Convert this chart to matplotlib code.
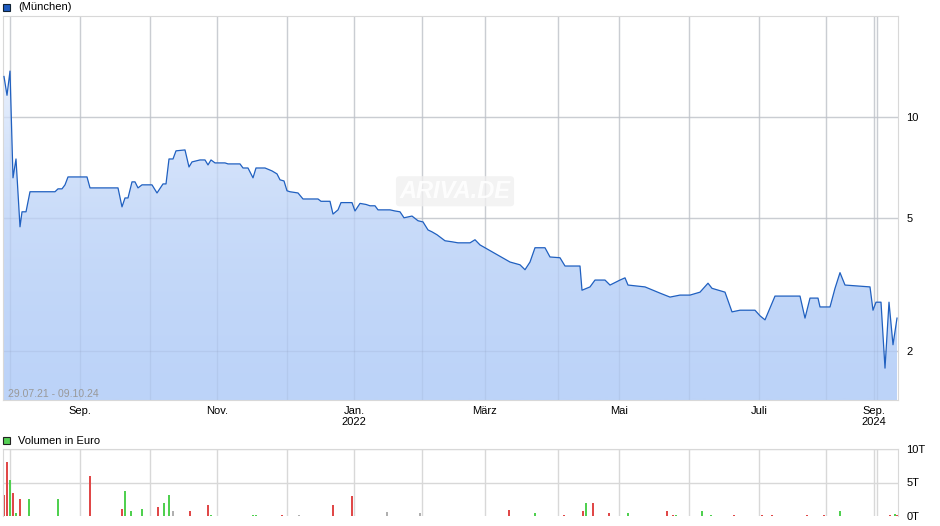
import numpy as np
import matplotlib
matplotlib.use("Agg")
import matplotlib.pyplot as plt
from matplotlib.patches import Rectangle
from matplotlib.colors import LinearSegmentedColormap

plt.rcParams['font.family'] = ['Liberation Sans', 'DejaVu Sans']

# time index (chart days) and prices
t = [4,7,10,13,16,20,22,26,30,55,58,62,65,68,87,90,118,122,125,128,132,135,138,142,152,157,163,166,169,173,176,185,189,192,200,205,208,211,215,225,228,240,243,248,253,256,265,272,277,280,284,287,290,298,303,318,321,330,333,338,341,352,355,360,366,370,375,378,390,395,400,404,412,418,423,428,432,437,445,452,458,470,475,480,510,520,525,530,535,545,550,560,565,570,580,582,590,595,605,610,620,625,628,645,660,670,680,690,700,708,712,725,732,740,755,760,765,775,800,805,810,818,820,830,835,840,845,870,873,876,881,885,889,893,897]
price = [13.2,11.6,13.7,6.58,7.49,4.70,5.21,5.21,5.98,5.98,6.10,6.10,6.27,6.62,6.62,6.14,6.14,5.39,5.73,5.73,6.40,6.40,6.14,6.27,6.27,5.93,6.31,6.31,7.49,7.49,7.92,7.97,7.09,7.34,7.44,7.44,7.19,7.44,7.29,7.29,7.24,7.24,7.04,7.04,6.58,7.04,7.04,6.90,6.76,6.49,6.44,6.02,5.98,5.93,5.69,5.69,5.60,5.60,5.13,5.28,5.55,5.55,5.24,5.52,5.48,5.43,5.43,5.28,5.28,5.24,5.21,5.00,5.06,4.90,4.86,4.60,4.54,4.45,4.27,4.24,4.21,4.21,4.30,4.15,3.69,3.62,3.50,3.69,4.07,4.07,3.82,3.80,3.59,3.59,3.59,3.04,3.11,3.26,3.26,3.15,3.26,3.31,3.15,3.11,2.98,2.90,2.94,2.94,3.00,3.19,3.08,3.00,2.62,2.65,2.65,2.55,2.48,2.92,2.92,2.51,2.88,2.88,2.71,2.71,3.08,3.43,3.15,3.11,2.65,2.80,2.80,1.78,2.80,2.09,2.51]

vol_t = [4,7,10,13,16,20,29,58,90,122,125,131,142,158,164,169,173,190,208,211,253,256,282,299,333,352,387,420,509,535,564,583,586,593,609,628,667,673,676,702,711,734,762,772,807,824,840,890,895,897]
vol = [3.1,8.0,5.4,3.4,0.5,2.5,2.5,2.5,5.9,1.1,3.8,0.8,1.1,1.3,2.0,3.1,0.8,0.8,1.6,0.2,0.2,0.2,0.1,0.2,1.6,3.0,0.6,0.5,0.9,0.5,0.2,0.7,2.0,1.9,0.4,0.4,0.7,0.2,0.1,0.7,0.1,0.1,0.1,0.1,0.1,0.1,0.7,0.2,0.3,0.1]
vol_dir = ["r","r","g","r","g","r","g","g","r","r","g","g","g","r","g","g","n","r","r","g","g","g","r","n","r","r","n","n","r","g","r","r","g","r","r","g","r","r","g","g","g","r","r","r","r","r","g","r","g","r"]

xtick_pos = [80, 217, 354, 485, 619, 759, 874]
xtick_lab = ["Sep.", "Nov.", "Jan.\n2022", "März", "Mai", "Juli", "Sep.\n2024"]
vgrid = [10, 80, 150, 217, 287, 354, 422, 485, 558, 619, 689, 759, 826, 874, 877]

W, H = 940, 526
fig = plt.figure(figsize=(W/100, H/100), dpi=100)
def axrect(x0, y0, x1, y1):
    return [x0/W, 1-y1/H, (x1-x0)/W, (y1-y0)/H]

XL = (3, 898)
gc = '#d8d8d8'
ax = fig.add_axes(axrect(3, 16, 898, 400))
ax.set_yscale('log')
ax.set_xlim(*XL); ax.set_ylim(1.43, 20.0)
for v in vgrid:
    ax.axvline(v, color=gc, lw=1, zorder=0)
    ax.axvline(v, color='#8090b0', alpha=0.15, lw=1, zorder=2)
for v in [2, 5, 10]:
    ax.axhline(v, color=gc, lw=1, zorder=0)
    ax.axhline(v, color='#8090b0', alpha=0.15, lw=1, zorder=2)
poly = ax.fill_between(t, price, 1.0, color='none')
grad = np.linspace(0, 1, 256).reshape(-1, 1)
cm = LinearSegmentedColormap.from_list('g', ['#bcd3f8', '#edf3fd'])
im = ax.imshow(grad, aspect='auto', cmap=cm, origin='lower', extent=[XL[0], XL[1], 1.43, 14], zorder=1)
im.set_clip_path(poly.get_paths()[0], transform=ax.transData)
ax.set_xlim(*XL); ax.set_ylim(1.43, 20.0)
ax.plot(t, price, color='#2060c0', lw=0.9, zorder=3)
ax.set_yticks([2, 5, 10]); ax.set_yticklabels(['2', '5', '10'])
ax.yaxis.set_minor_locator(matplotlib.ticker.NullLocator())
ax.yaxis.tick_right()
ax.tick_params(axis='y', length=0, labelsize=8, pad=6)
ax.set_xticks(xtick_pos); ax.set_xticklabels(xtick_lab)
ax.tick_params(axis='x', length=0, labelsize=8, pad=4)
for s in ax.spines.values(): s.set_color(gc)
ax.text(8, 1.46, "29.07.21 - 09.10.24", fontsize=7.5, color='#999999', zorder=4)
ax.text(455, 6.0, "ARIVA.DE", fontsize=17, color='white', style='italic', fontweight='bold',
        ha='center', va='center', zorder=2, alpha=0.9,
        bbox=dict(boxstyle='round,pad=0.15', fc='#f0f0f0', ec='none', alpha=0.8))

fig.add_artist(Rectangle((3/W, 1-11/H), 7/W, 7/H, fc='#1f5bbf', ec='#112233', lw=0.8))
fig.text(18/W, 1-7.5/H, "(München)", fontsize=8, va='center')
fig.add_artist(Rectangle((3/W, 1-444/H), 7/W, 7/H, fc='#55d055', ec='#222222', lw=0.8))
fig.text(18/W, 1-440.5/H, "Volumen in Euro", fontsize=8, va='center')

bx = fig.add_axes(axrect(3, 449, 898, 516))
bx.set_xlim(*XL); bx.set_ylim(0, 10)
for v in vgrid: bx.axvline(v, color=gc, lw=1, zorder=0)
for v in [5, 10]: bx.axhline(v, color=gc, lw=1, zorder=0)
cmap = {'r': '#e04848', 'g': '#50d050', 'n': '#b0b0b0'}
bx.bar(vol_t, vol, width=1.5, color=[cmap[c] for c in vol_dir], zorder=2)
bx.set_xticks([])
bx.yaxis.tick_right()
bx.set_yticks([0, 5, 10]); bx.set_yticklabels(['0T', '5T', '10T'])
bx.tick_params(axis='y', length=0, labelsize=8, pad=6)
for s in bx.spines.values(): s.set_color(gc)
bx.spines['bottom'].set_visible(False)

fig.savefig('out.png', dpi=100)
